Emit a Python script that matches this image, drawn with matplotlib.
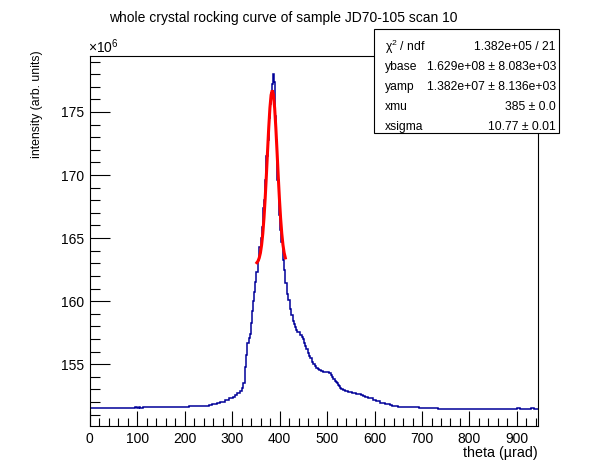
import matplotlib
matplotlib.use("Agg")
import matplotlib.pyplot as plt
from matplotlib.ticker import MultipleLocator

plt.rcParams['font.family'] = ['Liberation Sans', 'DejaVu Sans']
plt.rcParams['mathtext.fontset'] = 'custom'
plt.rcParams['mathtext.rm'] = 'Liberation Sans'

# ---- data (values in units of 1e6) ----
edges = [0, 95, 100, 104, 106, 113, 209, 251, 257, 267, 274, 285, 293, 301, 306,
         311, 316, 320, 323, 326, 328, 330, 332, 335, 337, 339.4, 341.5, 343.6,
         345.7, 347.8, 350.5, 354.1, 356.8, 359.7, 361.9, 364, 366.1, 368.8,
         371.6, 374.5, 376.6, 378.7, 381.5, 383.6, 385.7, 388.4, 390.5, 392.6,
         394.7, 397.7, 400.4, 403.2, 406.1, 408.8, 411.6, 414.5, 417.9, 420.8,
         423.6, 428.5, 430.6, 432.7, 434.8, 436.9, 443.3, 446.1, 448.2, 451,
         453.8, 455.9, 460.1, 462.2, 465, 467.8, 470.6, 474.8, 477.6, 480.4,
         483.3, 486.8, 491.7, 493.8, 504.3, 508.5, 511.3, 513.4, 516.2, 519,
         521.9, 524, 526.1, 528.2, 530.3, 533.8, 537.3, 543.6, 552, 561.9, 571.7,
         575.9, 580.1, 587.1, 597, 602.6, 612.4, 622.2, 632.1, 637, 650.3, 693.8,
         733.8, 900, 905.7, 930, 935, 945]

intensity = [151.51, 151.59, 151.51, 151.59, 151.51, 151.59, 151.69, 151.77,
             151.85, 151.93, 152.01, 152.17, 152.30, 152.43, 152.56, 152.70,
             152.85, 153.10, 153.5, 154.0, 154.8, 155.7, 156.7, 157.1, 157.4,
             158.3, 159.2, 160.0, 160.76, 161.55, 162.35, 163.28, 164.3, 165.0,
             165.9, 167.4, 168.0, 169.6, 171.5, 172.8, 174.5, 175.6, 176.5,
             177.2, 178.0, 177.4, 174.65, 172.8, 169.6, 166.85, 165.66, 164.73,
             163.28, 162.5, 161.4, 160.6, 160.1, 159.4, 158.9, 158.46, 158.2,
             157.94, 157.72, 157.54, 157.33, 157.14, 156.98, 156.7, 156.45,
             156.19, 155.87, 155.66, 155.48, 155.2, 155.02, 154.86, 154.73,
             154.65, 154.55, 154.49, 154.41, 154.36, 154.29, 154.15, 153.97,
             153.81, 153.7, 153.6, 153.49, 153.38, 153.28, 153.14, 153.04,
             152.96, 152.86, 152.8, 152.7, 152.64, 152.56, 152.48, 152.4, 152.3,
             152.17, 152.06, 151.95, 151.85, 151.77, 151.69, 151.6, 151.52,
             151.44, 151.51, 151.44, 151.51, 151.44]

fit_x = [352, 354.5, 357, 359.5, 362, 364.5, 367, 369.5, 372, 374.5, 377, 379.5,
         382, 384.5, 387, 389.5, 392, 394.5, 397, 399.5, 402, 404.5, 407, 409.5, 412]
fit_y = [163.05, 163.18, 163.43, 163.83, 164.46, 165.36, 166.59, 168.14, 169.94,
         171.88, 173.74, 175.31, 176.35, 176.72, 176.35, 175.31, 173.74, 171.88,
         169.94, 168.14, 166.59, 165.36, 164.46, 163.83, 163.43]

stat_labels = ["\u03c7$^{2}$ / ndf", "ybase", "yamp", "xmu", "xsigma"]
stat_values = ["1.382e+05 / 21", "1.629e+08 \u00b1 8.083e+03",
               "1.382e+07 \u00b1 8.136e+03", "385 \u00b1 0.0", "10.77 \u00b1 0.01"]

y_ticks = [155, 160, 165, 170, 175]
x_ticks = [0, 100, 200, 300, 400, 500, 600, 700, 800, 900]

# ---- figure ----
W, H = 598, 474
fig = plt.figure(figsize=(W / 100, H / 100), dpi=100)
fig.patch.set_facecolor('white')
ax = fig.add_axes([89.8 / W, 1 - 426 / H, (538.3 - 89.8) / W, (426 - 56) / H])

ax.stairs(intensity, edges, baseline=None, color='#000099', lw=1.1)
ax.plot(fit_x, fit_y, color='#ff0000', lw=2.2, solid_joinstyle='miter')

ax.set_xlim(0, 945)
ax.set_ylim(150.1, 179.44)

ax.set_xticks(x_ticks)
ax.set_yticks(y_ticks)
ax.xaxis.set_minor_locator(MultipleLocator(20))
ax.yaxis.set_minor_locator(MultipleLocator(1))
ax.tick_params(axis='both', which='both', direction='in', top=False, right=False,
               width=0.8, labelsize=10)
ax.tick_params(axis='x', which='major', length=11, pad=4)
ax.tick_params(axis='x', which='minor', length=5.5)
ax.tick_params(axis='y', which='major', length=14.5, pad=4)
ax.tick_params(axis='y', which='minor', length=7)
for s in ax.spines.values():
    s.set_linewidth(0.8)

# multiplier
fig.text(87.5 / W, 1 - 53 / H, "\u00d710$^{6}$", fontsize=10, ha='left', va='baseline')

# axis titles
fig.text(537.5 / W, 1 - 453.5 / H, "theta (\u00b5rad)", fontsize=10.3, ha='right', va='center')
fig.text(37 / W, 1 - 50 / H, "intensity (arb. units)", fontsize=8.8, ha='center',
         va='top', rotation=90)

# title
fig.text(283 / W, 1 - 18 / H, "whole crystal rocking curve of sample JD70-105 scan 10",
         fontsize=10, ha='center', va='center')

# stats box
bx0, by0, bx1, by1 = 374, 29, 559, 133
box = plt.Rectangle((bx0 / W, 1 - by1 / H), (bx1 - bx0) / W, (by1 - by0) / H,
                    transform=fig.transFigure, facecolor='white', edgecolor='black',
                    lw=0.8, zorder=5)
fig.patches.append(box)
for i, (lab, val) in enumerate(zip(stat_labels, stat_values)):
    yc = 1 - (46.7 + 20 * i) / H
    fig.text(385 / W, yc, lab, fontsize=8.7, ha='left', va='center', zorder=6)
    fig.text(556 / W, yc, val, fontsize=8.7, ha='right', va='center', zorder=6)

fig.savefig("out.png", dpi=100)
